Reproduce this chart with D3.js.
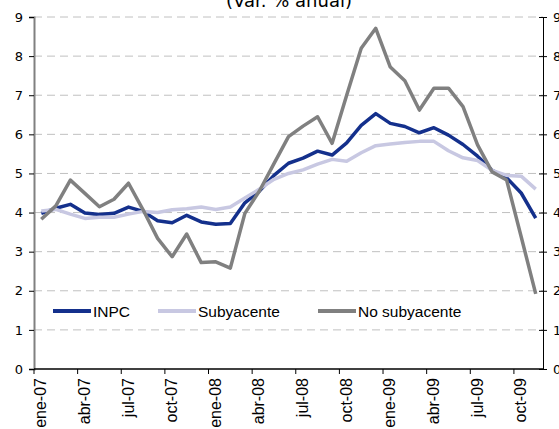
<!DOCTYPE html>
<meta charset="utf-8">
<style>
    body { margin: 0; background: #fff; }
    .grid line { stroke: #c0c0c0; stroke-width: 1px; stroke-dasharray: 8,5; }
    .serie { fill: none; stroke-width: 3.5px; stroke-linejoin: round; }
    text { fill: #000; }
</style>
<body>
<script src="https://d3js.org/d3.v7.min.js"></script>
<script>
    var width = 559,
        height = 429;

    var months = ["ene-07","feb-07","mar-07","abr-07","may-07","jun-07","jul-07","ago-07","sep-07","oct-07","nov-07","dic-07",
                  "ene-08","feb-08","mar-08","abr-08","may-08","jun-08","jul-08","ago-08","sep-08","oct-08","nov-08","dic-08",
                  "ene-09","feb-09","mar-09","abr-09","may-09","jun-09","jul-09","ago-09","sep-09","oct-09","nov-09"];

    var inpc = [3.98,4.11,4.21,3.99,3.95,3.98,4.14,4.03,3.79,3.74,3.93,3.76,
                3.70,3.72,4.25,4.55,4.95,5.26,5.39,5.57,5.47,5.78,6.23,6.53,
                6.28,6.20,6.04,6.17,5.98,5.74,5.44,5.08,4.89,4.50,3.86];

    var subyacente = [4.04,4.08,3.96,3.85,3.88,3.88,3.96,4.03,4.00,4.07,4.10,4.14,
                      4.08,4.14,4.37,4.60,4.85,5.00,5.09,5.24,5.36,5.31,5.53,5.71,
                      5.75,5.79,5.82,5.82,5.58,5.40,5.33,5.08,4.95,4.93,4.60];

    var noSubyacente = [3.83,4.17,4.83,4.49,4.15,4.34,4.75,4.07,3.34,2.87,3.45,2.72,
                        2.74,2.58,3.98,4.55,5.25,5.94,6.21,6.45,5.77,7.00,8.20,8.71,
                        7.72,7.37,6.62,7.18,7.18,6.71,5.73,5.04,4.83,3.38,1.92];

    var yTicks = [0,1,2,3,4,5,6,7,8,9];

    var series = [
        { name: "INPC", values: inpc, color: "#14308c" },
        { name: "Subyacente", values: subyacente, color: "#c8c8e2" },
        { name: "No subyacente", values: noSubyacente, color: "#808080" }
    ];

    var plotL = 34, plotR = 543, plotT = 17, plotB = 369;

    var x = d3.scaleBand().domain(months).range([plotL, plotR]).padding(0);
    var y = d3.scaleLinear().domain([0, 9]).range([plotB, plotT]);

    var svg = d3.select("body").append("svg")
        .attr("width", width)
        .attr("height", height)
        .style("font-family", "'Liberation Sans', Arial, sans-serif");

    // title, cut by the top edge
    svg.append("text")
        .attr("x", 289)
        .attr("y", 7)
        .attr("text-anchor", "middle")
        .style("font-family", "'DejaVu Sans', Verdana, sans-serif")
        .style("font-size", "18px")
        .text("(Var. % anual)");

    // dashed grid
    svg.append("g").attr("class", "grid")
        .selectAll("line")
        .data(yTicks.filter(function (d) { return d > 0; }))
        .enter().append("line")
        .attr("x1", plotL).attr("x2", plotR)
        .attr("y1", function (d) { return y(d); })
        .attr("y2", function (d) { return y(d); });

    // left axis
    var yLeft = svg.append("g")
        .attr("transform", "translate(" + plotL + ",0)")
        .call(d3.axisLeft(y).tickValues(yTicks).tickSize(5).tickPadding(6).tickFormat(d3.format("d")));
    yLeft.select(".domain").attr("stroke", "#808080").attr("stroke-width", 2);
    yLeft.selectAll(".tick line").attr("stroke", "#000");
    yLeft.selectAll("text")
        .style("font-family", "'DejaVu Sans', Verdana, sans-serif")
        .style("font-size", "13px");

    // right axis
    var yRight = svg.append("g")
        .attr("transform", "translate(" + plotR + ",0)")
        .call(d3.axisRight(y).tickValues(yTicks).tickSize(4).tickPadding(6).tickFormat(d3.format("d")));
    yRight.select(".domain").attr("stroke", "#000");
    yRight.selectAll(".tick line").attr("x1", -4);
    yRight.selectAll("text")
        .style("font-family", "'DejaVu Sans', Verdana, sans-serif")
        .style("font-size", "13px");

    // bottom axis: ticks on category boundaries, labels on category centres
    var shown = months.filter(function (d, i) { return i % 3 === 0; });
    var xAxis = svg.append("g").attr("transform", "translate(0," + plotB + ")");
    xAxis.append("line")
        .attr("x1", plotL).attr("x2", plotR)
        .attr("stroke", "#000").attr("stroke-width", 1.5);
    xAxis.selectAll(".tk")
        .data(shown)
        .enter().append("line")
        .attr("class", "tk")
        .attr("x1", function (d) { return x(d); })
        .attr("x2", function (d) { return x(d); })
        .attr("y1", 0).attr("y2", 5)
        .attr("stroke", "#000");
    xAxis.selectAll(".lb")
        .data(shown)
        .enter().append("text")
        .attr("class", "lb")
        .attr("transform", function (d) {
            return "translate(" + (x(d) + x.bandwidth() / 2 + 5) + ",9) rotate(-90)";
        })
        .attr("text-anchor", "end")
        .style("font-size", "16px")
        .text(function (d) { return d; });

    // lines
    var line = d3.line()
        .x(function (d, i) { return x(months[i]) + x.bandwidth() / 2; })
        .y(function (d) { return y(d); });

    svg.selectAll(".serie")
        .data(series)
        .enter().append("path")
        .attr("class", "serie")
        .attr("stroke", function (d) { return d.color; })
        .attr("d", function (d) { return line(d.values); });

    // legend
    var legX = [53, 158, 318];
    var leg = svg.selectAll(".leg")
        .data(series)
        .enter().append("g")
        .attr("class", "leg")
        .attr("transform", function (d, i) { return "translate(" + legX[i] + ",311)"; });
    leg.append("line")
        .attr("x1", 0).attr("x2", 38)
        .attr("stroke", function (d) { return d.color; })
        .attr("stroke-width", 4);
    leg.append("text")
        .attr("x", 40)
        .attr("y", 5.5)
        .style("font-size", "15.5px")
        .text(function (d) { return d.name; });
</script>
</body>
